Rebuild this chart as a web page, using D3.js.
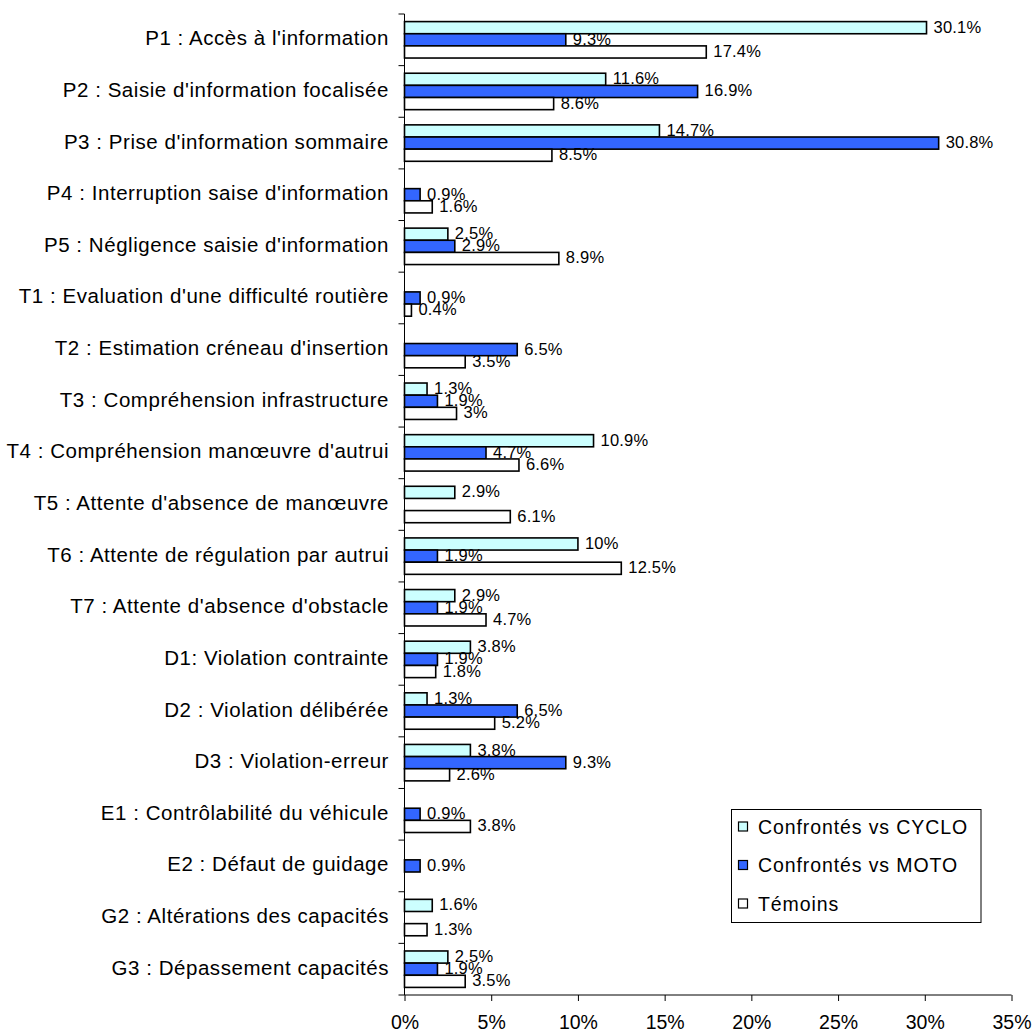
<!DOCTYPE html>
<html>
<head>
<meta charset="utf-8">
<script src="https://cdn.jsdelivr.net/npm/d3@7"></script>
<style>
  html, body { margin: 0; padding: 0; background: #fff; }
  svg { display: block; }
  text { font-family: "Liberation Sans", Arial, sans-serif; fill: #000; }
</style>
</head>
<body>
<svg id="chart" width="1035" height="1034"></svg>
<script>
const categories = [
  "P1 : Accès à l'information",
  "P2 : Saisie d'information focalisée",
  "P3 : Prise d'information sommaire",
  "P4 : Interruption saise d'information",
  "P5 : Négligence saisie d'information",
  "T1 : Evaluation d'une difficulté routière",
  "T2 : Estimation créneau d'insertion",
  "T3 : Compréhension infrastructure",
  "T4 : Compréhension manœuvre d'autrui",
  "T5 : Attente d'absence de manœuvre",
  "T6 : Attente de régulation par autrui",
  "T7 : Attente d'absence d'obstacle",
  "D1: Violation contrainte",
  "D2 : Violation délibérée",
  "D3 : Violation-erreur",
  "E1 : Contrôlabilité du véhicule",
  "E2 : Défaut de guidage",
  "G2 : Altérations des capacités",
  "G3 : Dépassement capacités"
];
const seriesNames = ["Confrontés vs CYCLO", "Confrontés vs MOTO", "Témoins"];
const seriesColors = ["#CCFFFF", "#3366FF", "#FFFFFF"];
const cyclo  = [30.1, 11.6, 14.7, null, 2.5, null, null, 1.3, 10.9, 2.9, 10, 2.9, 3.8, 1.3, 3.8, null, null, 1.6, 2.5];
const moto   = [9.3, 16.9, 30.8, 0.9, 2.9, 0.9, 6.5, 1.9, 4.7, null, 1.9, 1.9, 1.9, 6.5, 9.3, 0.9, 0.9, null, 1.9];
const temoins= [17.4, 8.6, 8.5, 1.6, 8.9, 0.4, 3.5, 3, 6.6, 6.1, 12.5, 4.7, 1.8, 5.2, 2.6, 3.8, null, 1.3, 3.5];
const xTicks = [0, 5, 10, 15, 20, 25, 30, 35];

const seriesValues = [cyclo, moto, temoins];

const svg = d3.select("#chart");
const pLeft = 404.5, pRight = 1011.5, pTop = 14, pBottom = 995;

const x = d3.scaleLinear().domain([0, 35]).range([pLeft, pRight]);
const y = d3.scaleBand().domain(categories).range([pTop, pBottom]).padding(0);
const bw = y.bandwidth();
const ySub = d3.scaleBand().domain(d3.range(3)).range([7.6, bw - 7.6]).padding(0);

// bars
const data = [];
categories.forEach((c, i) => {
  seriesValues.forEach((arr, s) => {
    if (arr[i] !== null) data.push({cat: c, s: s, v: arr[i]});
  });
});

const g = svg.append("g");
g.selectAll("rect.bar").data(data).enter().append("rect")
  .attr("class", "bar")
  .attr("x", x(0))
  .attr("y", d => y(d.cat) + ySub(d.s))
  .attr("width", d => x(d.v) - x(0))
  .attr("height", ySub.bandwidth())
  .attr("fill", d => seriesColors[d.s])
  .attr("stroke", "#000")
  .attr("stroke-width", 1.6);

g.selectAll("text.val").data(data).enter().append("text")
  .attr("class", "val")
  .attr("x", d => x(d.v) + 7)
  .attr("y", d => y(d.cat) + ySub(d.s) + ySub.bandwidth() / 2 + 5)
  .attr("font-size", "16.5px")
  .attr("letter-spacing", "0.2px")
  .text(d => d.v + "%");

// y axis
const yAxis = d3.axisLeft(y).tickSize(0).tickFormat("");
const ya = svg.append("g").attr("transform", `translate(${pLeft},0)`).call(yAxis);
ya.select(".domain").attr("stroke", "#000").attr("stroke-width", 1).attr("d", `M0,${pTop}V${pBottom}`);
const bounds = categories.map(c => y(c)).concat([pBottom]);
ya.selectAll("line.bt").data(bounds).enter().append("line")
  .attr("class", "bt")
  .attr("x1", -6).attr("x2", 0)
  .attr("y1", d => d).attr("y2", d => d)
  .attr("stroke", "#000").attr("stroke-width", 1);

// category labels
svg.append("g").selectAll("text.cat").data(categories).enter().append("text")
  .attr("class", "cat")
  .attr("x", 389)
  .attr("y", d => y(d) + bw / 2 + 5.5)
  .attr("text-anchor", "end")
  .attr("font-size", "20.5px")
  .attr("letter-spacing", "0.55px")
  .text(d => d);

// x axis
const xAxis = d3.axisBottom(x).tickValues(xTicks).tickSize(6).tickPadding(16).tickFormat(d => d + "%");
const xa = svg.append("g").attr("transform", `translate(0,${pBottom})`).call(xAxis);
xa.select(".domain").attr("stroke", "#000").attr("d", `M${pLeft},0H${pRight}`);
xa.selectAll(".tick line").attr("stroke", "#000");
xa.selectAll(".tick text")
  .attr("font-size", "19.5px")
  .attr("font-family", "Liberation Sans, Arial, sans-serif")
  .attr("fill", "#000")
  .attr("dy", null)
  .attr("y", 34);

// legend
const lg = svg.append("g");
lg.append("rect")
  .attr("x", 731.5).attr("y", 809.5).attr("width", 249.5).attr("height", 113)
  .attr("fill", "#fff").attr("stroke", "#000").attr("stroke-width", 1);
const rows = [826.5, 865, 903.5];
seriesNames.forEach((n, i) => {
  lg.append("rect")
    .attr("x", 738.5).attr("y", rows[i] - 4.5)
    .attr("width", 9).attr("height", 9)
    .attr("fill", seriesColors[i]).attr("stroke", "#000").attr("stroke-width", 1.2);
  lg.append("text")
    .attr("x", 758).attr("y", rows[i] + 7)
    .attr("font-size", "19.5px")
    .attr("letter-spacing", "0.9px")
    .text(n);
});
</script>
</body>
</html>
